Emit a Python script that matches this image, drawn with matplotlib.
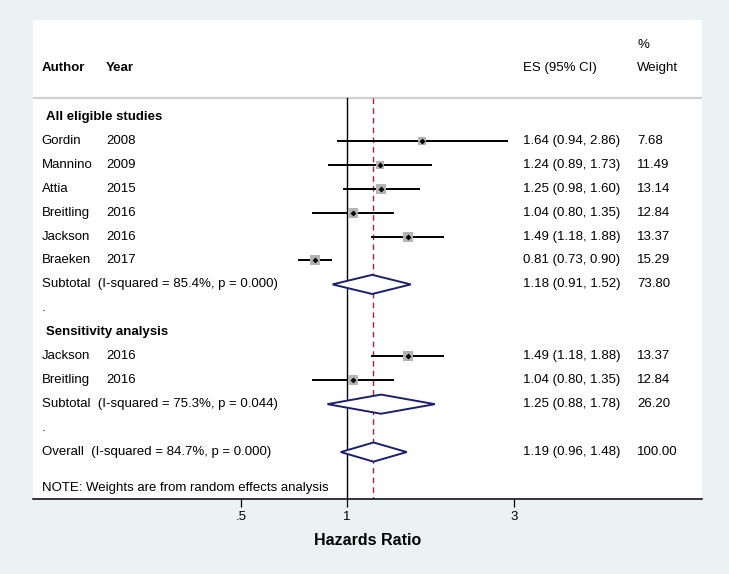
import numpy as np
import matplotlib
matplotlib.use('Agg')
import matplotlib.pyplot as plt
from matplotlib.patches import Polygon
import matplotlib.transforms as mtransforms

plt.rcParams['font.family'] = ['Liberation Sans', 'DejaVu Sans']

# Данные: все исследования
authors = ['Gordin', 'Mannino', 'Attia', 'Breitling', 'Jackson', 'Braeken']
years = ['2008', '2009', '2015', '2016', '2016', '2017']
es = [1.64, 1.24, 1.25, 1.04, 1.49, 0.81]
lo = [0.94, 0.89, 0.98, 0.80, 1.18, 0.73]
hi = [2.86, 1.73, 1.60, 1.35, 1.88, 0.90]
weight = [7.68, 11.49, 13.14, 12.84, 13.37, 15.29]

# Анализ чувствительности
sens_authors = ['Jackson', 'Breitling']
sens_years = ['2016', '2016']
sens_es = [1.49, 1.04]
sens_lo = [1.18, 0.80]
sens_hi = [1.88, 1.35]
sens_weight = [13.37, 12.84]

# Итоговые оценки: подгруппа 1, подгруппа 2, общая
pooled_labels = ['Subtotal  (I-squared = 85.4%, p = 0.000)',
                 'Subtotal  (I-squared = 75.3%, p = 0.044)',
                 'Overall  (I-squared = 84.7%, p = 0.000)']
pooled_es = [1.18, 1.25, 1.19]
pooled_lo = [0.91, 0.88, 0.96]
pooled_hi = [1.52, 1.78, 1.48]
pooled_weight = [73.80, 26.20, 100.00]

xticks = [0.5, 1, 3]
xtick_labels = ['.5', '1', '3']

bg = '#EAF2F3'
navy = '#1b1f6e'
red = '#a8203a'
fs = 9.5

fig = plt.figure(figsize=(7.29, 5.74), dpi=100, facecolor=bg)
ax = fig.add_axes([33 / 729, 1 - 499 / 574, 669 / 729, 479 / 574])
ax.set_facecolor('white')
ax.set_xscale('log')
ax.set_xlim(0.1276, 10.26)
ax.set_ylim(15.96, -4.04)

tr = mtransforms.blended_transform_factory(ax.transAxes, ax.transData)
x_author, x_year, x_es, x_w = 0.013, 0.109, 0.732, 0.903


def ci_text(e, l, h):
    return '%.2f (%.2f, %.2f)' % (e, l, h)


def draw_study(row, a, yr, e, l, h, w):
    ax.plot([l, h], [row, row], color='black', lw=1.4, zorder=3)
    side = 10 * np.sqrt(w / 15.29) / 1.389
    ax.scatter([e], [row], marker='s', s=side ** 2, color='#b4b4b4',
               linewidths=0, zorder=4)
    ax.scatter([e], [row], marker='D', s=9, color='black', linewidths=0, zorder=5)
    ax.text(x_author, row, a, transform=tr, va='center', fontsize=fs)
    ax.text(x_year, row, yr, transform=tr, va='center', fontsize=fs)
    ax.text(x_es, row, ci_text(e, l, h), transform=tr, va='center', fontsize=fs)
    ax.text(x_w, row, '%.2f' % w, transform=tr, va='center', fontsize=fs)


def draw_pooled(row, label, e, l, h, w):
    hh = 0.4
    poly = Polygon([[l, row], [e, row - hh], [h, row], [e, row + hh]],
                   closed=True, facecolor='white', edgecolor=navy, lw=1.4, zorder=3)
    ax.add_patch(poly)
    ax.text(x_author, row, label, transform=tr, va='center', fontsize=fs)
    ax.text(x_es, row, ci_text(e, l, h), transform=tr, va='center', fontsize=fs)
    ax.text(x_w, row, '%.2f' % w, transform=tr, va='center', fontsize=fs)


# Заголовок таблицы
ax.text(x_author, -2.03, 'Author', transform=tr, va='center', fontsize=fs, fontweight='bold')
ax.text(x_year, -2.03, 'Year', transform=tr, va='center', fontsize=fs, fontweight='bold')
ax.text(x_es, -2.03, 'ES (95% CI)', transform=tr, va='center', fontsize=fs)
ax.text(x_w, -2.99, '%', transform=tr, va='center', fontsize=fs)
ax.text(x_w, -2.03, 'Weight', transform=tr, va='center', fontsize=fs)
ax.axhline(-0.79, color='#d0d0d0', lw=1.6, zorder=1)

# Вертикальные линии: нулевой эффект и общая оценка
ax.plot([1, 1], [-0.79, 15.96], color='black', lw=1.0, zorder=1)
ax.plot([pooled_es[2]] * 2, [-0.79, 15.96], color=red, lw=1.0,
        dashes=(4, 3), zorder=1)

row = 0
ax.text(0.0194, row, 'All eligible studies', transform=tr, va='center',
        fontsize=fs, fontweight='bold')
for i in range(len(authors)):
    row += 1
    draw_study(row, authors[i], years[i], es[i], lo[i], hi[i], weight[i])
row += 1
draw_pooled(row, pooled_labels[0], pooled_es[0], pooled_lo[0], pooled_hi[0], pooled_weight[0])
row += 1
ax.text(x_author, row, '.', transform=tr, va='center', fontsize=fs)
row += 1
ax.text(0.0194, row, 'Sensitivity analysis', transform=tr, va='center',
        fontsize=fs, fontweight='bold')
for i in range(len(sens_authors)):
    row += 1
    draw_study(row, sens_authors[i], sens_years[i], sens_es[i], sens_lo[i],
               sens_hi[i], sens_weight[i])
row += 1
draw_pooled(row, pooled_labels[1], pooled_es[1], pooled_lo[1], pooled_hi[1], pooled_weight[1])
row += 1
ax.text(x_author, row, '.', transform=tr, va='center', fontsize=fs)
row += 1
draw_pooled(row, pooled_labels[2], pooled_es[2], pooled_lo[2], pooled_hi[2], pooled_weight[2])
ax.text(x_author, row + 1.5, 'NOTE: Weights are from random effects analysis',
        transform=tr, va='center', fontsize=fs)

# Оси
for s in ['top', 'left', 'right']:
    ax.spines[s].set_visible(False)
ax.spines['bottom'].set_linewidth(1.1)
ax.set_yticks([])
ax.set_xticks(xticks)
ax.set_xticklabels(xtick_labels, fontsize=fs)
ax.xaxis.set_minor_locator(matplotlib.ticker.NullLocator())
ax.tick_params(axis='x', length=6, width=0.9, pad=3)
ax.set_xlabel('Hazards Ratio', fontsize=11.5, fontweight='bold', labelpad=7)

fig.savefig('out.png', dpi=100, facecolor=bg)
